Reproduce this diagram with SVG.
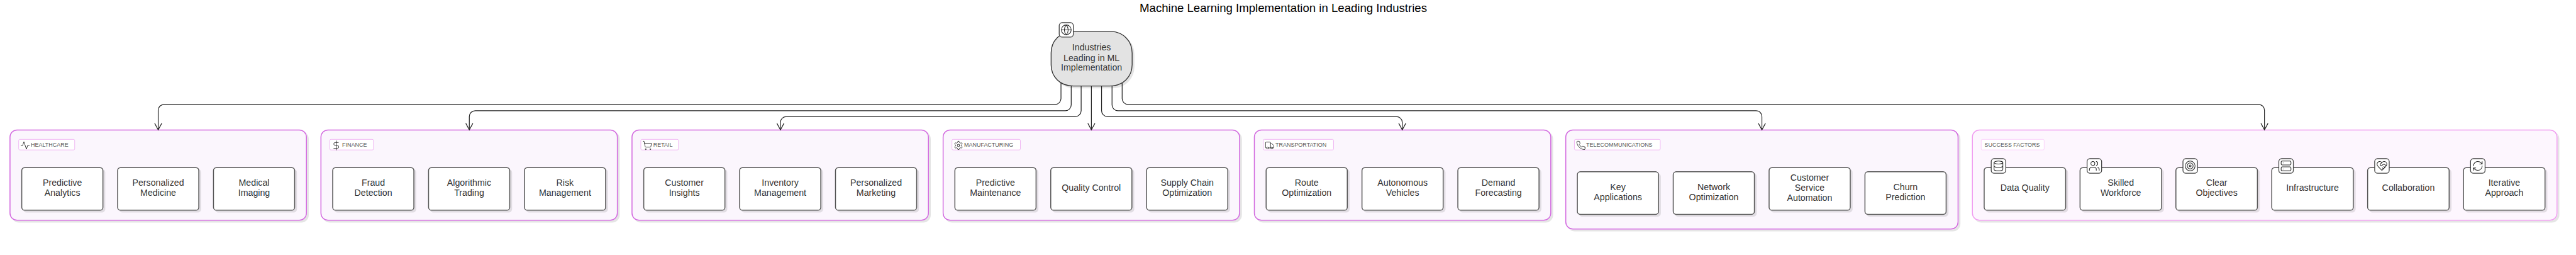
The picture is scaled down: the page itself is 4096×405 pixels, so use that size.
<svg xmlns="http://www.w3.org/2000/svg" width="4096" height="405" viewBox="0 0 4096 405">
<style>
text{font-family:"Liberation Sans",Arial,sans-serif}
.t{font-size:15.2px;fill:#333;text-anchor:middle}
.title{font-size:19.9px;fill:#000;text-anchor:middle}
.lt{font-size:9.6px;fill:#555}
.g{fill:#fbf6fd;stroke:#d268df;stroke-width:1.6}
.gs{fill:#fdf6fe;stroke:#f09bf0;stroke-width:1.6}
.lb{fill:#fff;stroke:#efb4f2;stroke-width:1}
.n{fill:#fff;stroke:#555;stroke-width:1.6}
.b{fill:#fff;stroke:#444;stroke-width:1.4}
.c{fill:none;stroke:#222;stroke-width:1.3}
.i{fill:none;stroke:#222;stroke-width:1.3;stroke-linecap:round;stroke-linejoin:round}
</style>
<defs>
<filter id="sh" x="-5%" y="-5%" width="110%" height="115%"><feDropShadow dx="3.200" dy="3.200" stdDeviation="0.4" flood-color="#000" flood-opacity="0.1"/></filter>
<marker id="ah" markerUnits="userSpaceOnUse" markerWidth="14" markerHeight="16" refX="12" refY="7" orient="auto" viewBox="0 0 14 14"><path d="M1 1L12 7L1 13" fill="none" stroke="#222" stroke-width="1.3"/></marker>
<symbol id="i-activity" viewBox="0 0 24 24"><path class="i" d="M22 12h-4l-3 9L9 3l-3 9H2"/></symbol>
<symbol id="i-dollar" viewBox="0 0 24 24"><path class="i" d="M12 1v22M17 5H9.500a3.500 3.500 0 0 0 0 7h5a3.500 3.500 0 0 1 0 7H6"/></symbol>
<symbol id="i-cart" viewBox="0 0 24 24"><circle class="i" cx="8" cy="21" r="1"/><circle class="i" cx="19" cy="21" r="1"/><path class="i" d="M2.050 2.050h2l2.660 12.420a2 2 0 0 0 2 1.580h9.780a2 2 0 0 0 1.950-1.570l1.650-7.430H5.120"/></symbol>
<symbol id="i-gear" viewBox="0 0 24 24"><path class="i" d="M12.220 2h-.44a2 2 0 0 0-2 2v.18a2 2 0 0 1-1 1.730l-.43.25a2 2 0 0 1-2 0l-.15-.08a2 2 0 0 0-2.730.73l-.22.38a2 2 0 0 0 .73 2.730l.15.1a2 2 0 0 1 1 1.720v.51a2 2 0 0 1-1 1.740l-.15.09a2 2 0 0 0-.73 2.730l.22.38a2 2 0 0 0 2.730.73l.15-.08a2 2 0 0 1 2 0l.43.25a2 2 0 0 1 1 1.730V20a2 2 0 0 0 2 2h.44a2 2 0 0 0 2-2v-.18a2 2 0 0 1 1-1.730l.43-.25a2 2 0 0 1 2 0l.15.08a2 2 0 0 0 2.730-.73l.22-.39a2 2 0 0 0-.73-2.730l-.15-.08a2 2 0 0 1-1-1.740v-.5a2 2 0 0 1 1-1.740l.15-.09a2 2 0 0 0 .73-2.730l-.22-.38a2 2 0 0 0-2.730-.73l-.15.08a2 2 0 0 1-2 0l-.43-.25a2 2 0 0 1-1-1.730V4a2 2 0 0 0-2-2z"/><circle class="i" cx="12" cy="12" r="3"/></symbol>
<symbol id="i-truck" viewBox="0 0 24 24"><path class="i" d="M14 18V6a2 2 0 0 0-2-2H4a2 2 0 0 0-2 2v11a1 1 0 0 0 1 1h2M15 18H9M19 18h2a1 1 0 0 0 1-1v-3.650a1 1 0 0 0-.22-.624l-3.480-4.350A1 1 0 0 0 17.520 8H14"/><circle class="i" cx="17" cy="18" r="2"/><circle class="i" cx="7" cy="18" r="2"/></symbol>
<symbol id="i-phone" viewBox="0 0 24 24"><path class="i" d="M22 16.920v3a2 2 0 0 1-2.180 2 19.790 19.790 0 0 1-8.630-3.070 19.500 19.500 0 0 1-6-6 19.790 19.790 0 0 1-3.070-8.670A2 2 0 0 1 4.110 2h3a2 2 0 0 1 2 1.720 12.840 12.840 0 0 0 .7 2.810 2 2 0 0 1-.45 2.110L8.090 9.910a16 16 0 0 0 6 6l1.270-1.270a2 2 0 0 1 2.110-.45 12.840 12.840 0 0 0 2.810.7A2 2 0 0 1 22 16.920z"/></symbol>
<symbol id="i-globe" viewBox="0 0 24 24"><circle class="i" cx="12" cy="12" r="10"/><path class="i" d="M2 12h20M12 2a15.300 15.300 0 0 1 4 10 15.300 15.300 0 0 1-4 10 15.300 15.300 0 0 1-4-10 15.300 15.300 0 0 1 4-10z"/></symbol>
<symbol id="i-db" viewBox="0 0 24 24"><ellipse class="i" cx="12" cy="5" rx="9" ry="3"/><path class="i" d="M3 5V19A9 3 0 0 0 21 19V5M3 12A9 3 0 0 0 21 12"/></symbol>
<symbol id="i-users" viewBox="0 0 24 24"><path class="i" d="M16 21v-2a4 4 0 0 0-4-4H6a4 4 0 0 0-4 4v2M22 21v-2a4 4 0 0 0-3-3.870M16 3.130a4 4 0 0 1 0 7.750"/><circle class="i" cx="9" cy="7" r="4"/></symbol>
<symbol id="i-target" viewBox="0 0 24 24"><circle class="i" cx="12" cy="12" r="10"/><circle class="i" cx="12" cy="12" r="6"/><circle class="i" cx="12" cy="12" r="2"/></symbol>
<symbol id="i-server" viewBox="0 0 24 24"><rect class="i" x="2" y="2" width="20" height="8" rx="2"/><rect class="i" x="2" y="14" width="20" height="8" rx="2"/><path class="i" d="M6 6h.01M6 18h.01"/></symbol>
<symbol id="i-heart" viewBox="0 0 24 24"><path class="i" d="M19 14c1.490-1.460 3-3.210 3-5.500A5.500 5.500 0 0 0 16.500 3c-1.760 0-3 .5-4.500 2-1.500-1.500-2.740-2-4.500-2A5.500 5.500 0 0 0 2 8.500c0 2.300 1.500 4.050 3 5.500l7 7ZM12 5 9.040 7.960a2.170 2.170 0 0 0 0 3.080c.82.82 2.130.85 3 .07l2.070-1.900a2.820 2.820 0 0 1 3.790 0l2.960 2.660M18 15l-2-2M15 18l-2-2"/></symbol>
<symbol id="i-refresh" viewBox="0 0 24 24"><path class="i" d="M3 12a9 9 0 0 1 9-9 9.750 9.750 0 0 1 6.740 2.740L21 8M21 3v5h-5M21 12a9 9 0 0 1-9 9 9.750 9.750 0 0 1-6.740-2.740L3 16M8 16H3v5"/></symbol>
</defs>
<g transform="scale(0.93516)">
<text class="title" x="2182" y="20.700">Machine Learning Implementation in Leading Industries</text>

<g id="group-healthcare">
<rect class="g" filter="url(#sh)" x="17" y="220.700" width="504" height="153.300" rx="12"/>
<rect class="lb" x="31.800" y="236.700" width="95.200" height="18" rx="2"/>
<use href="#i-activity" x="34.300" y="238.500" width="17" height="17"/>
<text class="lt" x="52.500" y="249.300">HEALTHCARE</text>
</g>
<g id="n-predictive-analytics"><rect class="n" filter="url(#sh)" x="37" y="284.700" width="138" height="72.300" rx="5"/><text class="t" x="106" y="315.400">Predictive<tspan x="106" y="332.600">Analytics</tspan></text></g>
<g id="n-personalized-medicine"><rect class="n" filter="url(#sh)" x="200" y="284.700" width="138" height="72.300" rx="5"/><text class="t" x="269" y="315.400">Personalized<tspan x="269" y="332.600">Medicine</tspan></text></g>
<g id="n-medical-imaging"><rect class="n" filter="url(#sh)" x="363" y="284.700" width="138" height="72.300" rx="5"/><text class="t" x="432" y="315.400">Medical<tspan x="432" y="332.600">Imaging</tspan></text></g>

<g id="group-finance">
<rect class="g" filter="url(#sh)" x="545.700" y="220.700" width="504" height="153.300" rx="12"/>
<rect class="lb" x="560.700" y="236.700" width="74.300" height="18" rx="2"/>
<use href="#i-dollar" x="563.300" y="238.500" width="17" height="17"/>
<text class="lt" x="581.800" y="249.300">FINANCE</text>
</g>
<g id="n-fraud-detection"><rect class="n" filter="url(#sh)" x="565.700" y="284.700" width="138" height="72.300" rx="5"/><text class="t" x="634.700" y="315.400">Fraud<tspan x="634.700" y="332.600">Detection</tspan></text></g>
<g id="n-algorithmic-trading"><rect class="n" filter="url(#sh)" x="728.700" y="284.700" width="138" height="72.300" rx="5"/><text class="t" x="797.700" y="315.400">Algorithmic<tspan x="797.700" y="332.600">Trading</tspan></text></g>
<g id="n-risk-management"><rect class="n" filter="url(#sh)" x="891.700" y="284.700" width="138" height="72.300" rx="5"/><text class="t" x="960.700" y="315.400">Risk<tspan x="960.700" y="332.600">Management</tspan></text></g>

<g id="group-retail">
<rect class="g" filter="url(#sh)" x="1074.600" y="220.700" width="504" height="153.300" rx="12"/>
<rect class="lb" x="1089.600" y="236.700" width="64" height="18" rx="2"/>
<use href="#i-cart" x="1092.200" y="238.500" width="17" height="17"/>
<text class="lt" x="1110.700" y="249.300">RETAIL</text>
</g>
<g id="n-customer-insights"><rect class="n" filter="url(#sh)" x="1094.600" y="284.700" width="138" height="72.300" rx="5"/><text class="t" x="1163.600" y="315.400">Customer<tspan x="1163.600" y="332.600">Insights</tspan></text></g>
<g id="n-inventory-management"><rect class="n" filter="url(#sh)" x="1257.600" y="284.700" width="138" height="72.300" rx="5"/><text class="t" x="1326.600" y="315.400">Inventory<tspan x="1326.600" y="332.600">Management</tspan></text></g>
<g id="n-personalized-marketing"><rect class="n" filter="url(#sh)" x="1420.600" y="284.700" width="138" height="72.300" rx="5"/><text class="t" x="1489.600" y="315.400">Personalized<tspan x="1489.600" y="332.600">Marketing</tspan></text></g>

<g id="group-manufacturing">
<rect class="g" filter="url(#sh)" x="1603.600" y="220.700" width="504" height="153.300" rx="12"/>
<rect class="lb" x="1618.600" y="236.700" width="116.400" height="18" rx="2"/>
<use href="#i-gear" x="1621.200" y="238.500" width="17" height="17"/>
<text class="lt" x="1639.300" y="249.300">MANUFACTURING</text>
</g>
<g id="n-predictive-maintenance"><rect class="n" filter="url(#sh)" x="1623.600" y="284.700" width="138" height="72.300" rx="5"/><text class="t" x="1692.600" y="315.400">Predictive<tspan x="1692.600" y="332.600">Maintenance</tspan></text></g>
<g id="n-quality-control"><rect class="n" filter="url(#sh)" x="1786.600" y="284.700" width="138" height="72.300" rx="5"/><text class="t" x="1855.600" y="324">Quality Control</text></g>
<g id="n-supply-chain"><rect class="n" filter="url(#sh)" x="1949.600" y="284.700" width="138" height="72.300" rx="5"/><text class="t" x="2018.600" y="315.400">Supply Chain<tspan x="2018.600" y="332.600">Optimization</tspan></text></g>

<g id="group-transportation">
<rect class="g" filter="url(#sh)" x="2132.800" y="220.700" width="504" height="153.300" rx="12"/>
<rect class="lb" x="2147.900" y="236.700" width="119.600" height="18" rx="2"/>
<use href="#i-truck" x="2150.400" y="238.500" width="17" height="17"/>
<text class="lt" x="2168.600" y="249.300">TRANSPORTATION</text>
</g>
<g id="n-route-optimization"><rect class="n" filter="url(#sh)" x="2152.800" y="284.700" width="138" height="72.300" rx="5"/><text class="t" x="2221.800" y="315.400">Route<tspan x="2221.800" y="332.600">Optimization</tspan></text></g>
<g id="n-autonomous-vehicles"><rect class="n" filter="url(#sh)" x="2315.800" y="284.700" width="138" height="72.300" rx="5"/><text class="t" x="2384.800" y="315.400">Autonomous<tspan x="2384.800" y="332.600">Vehicles</tspan></text></g>
<g id="n-demand-forecasting"><rect class="n" filter="url(#sh)" x="2478.800" y="284.700" width="138" height="72.300" rx="5"/><text class="t" x="2547.800" y="315.400">Demand<tspan x="2547.800" y="332.600">Forecasting</tspan></text></g>

<g id="group-telecommunications">
<rect class="g" filter="url(#sh)" x="2662.300" y="220.700" width="667" height="168.300" rx="12"/>
<rect class="lb" x="2677" y="236.700" width="146" height="18" rx="2"/>
<use href="#i-phone" x="2679.500" y="238.500" width="17" height="17"/>
<text class="lt" x="2697" y="249.300">TELECOMMUNICATIONS</text>
</g>
<g id="n-key-applications"><rect class="n" filter="url(#sh)" x="2682" y="291.700" width="138" height="72.300" rx="5"/><text class="t" x="2751" y="322.700">Key<tspan x="2751" y="339.900">Applications</tspan></text></g>
<g id="n-network-optimization"><rect class="n" filter="url(#sh)" x="2845" y="291.700" width="138" height="72.300" rx="5"/><text class="t" x="2914" y="322.700">Network<tspan x="2914" y="339.900">Optimization</tspan></text></g>
<g id="n-customer-service"><rect class="n" filter="url(#sh)" x="3008" y="284.700" width="138" height="72.300" rx="5"/><text class="t" x="3077" y="306.700">Customer<tspan x="3077" y="323.900">Service</tspan><tspan x="3077" y="341.100">Automation</tspan></text></g>
<g id="n-churn-prediction"><rect class="n" filter="url(#sh)" x="3171" y="291.700" width="138" height="72.300" rx="5"/><text class="t" x="3240" y="322.700">Churn<tspan x="3240" y="339.900">Prediction</tspan></text></g>

<g id="group-success">
<rect class="gs" filter="url(#sh)" x="3353.700" y="220.700" width="994" height="153.300" rx="12"/>
<rect class="lb" x="3368.700" y="236.700" width="107" height="18" rx="2" style="stroke:#fbd0fb"/>
<text class="lt" x="3374.300" y="249.300">SUCCESS FACTORS</text>
</g>
<g id="n-data-quality"><rect class="n" filter="url(#sh)" x="3373.700" y="284.700" width="138.600" height="72.300" rx="5"/><rect class="b" x="3385.700" y="269.500" width="24.700" height="24.700" rx="5"/><use href="#i-db" x="3388" y="271.800" width="20" height="20"/><text class="t" x="3443" y="324">Data Quality</text></g>
<g id="n-skilled-workforce"><rect class="n" filter="url(#sh)" x="3536.700" y="284.700" width="138.600" height="72.300" rx="5"/><rect class="b" x="3548.700" y="269.500" width="24.700" height="24.700" rx="5"/><use href="#i-users" x="3551" y="271.800" width="20" height="20"/><text class="t" x="3606" y="315.400">Skilled<tspan x="3606" y="332.600">Workforce</tspan></text></g>
<g id="n-clear-objectives"><rect class="n" filter="url(#sh)" x="3699.700" y="284.700" width="138.600" height="72.300" rx="5"/><rect class="b" x="3711.700" y="269.500" width="24.700" height="24.700" rx="5"/><use href="#i-target" x="3714" y="271.800" width="20" height="20"/><text class="t" x="3769" y="315.400">Clear<tspan x="3769" y="332.600">Objectives</tspan></text></g>
<g id="n-infrastructure"><rect class="n" filter="url(#sh)" x="3862.700" y="284.700" width="138.600" height="72.300" rx="5"/><rect class="b" x="3874.700" y="269.500" width="24.700" height="24.700" rx="5"/><use href="#i-server" x="3877" y="271.800" width="20" height="20"/><text class="t" x="3932" y="324">Infrastructure</text></g>
<g id="n-collaboration"><rect class="n" filter="url(#sh)" x="4025.700" y="284.700" width="138.600" height="72.300" rx="5"/><rect class="b" x="4037.700" y="269.500" width="24.700" height="24.700" rx="5"/><use href="#i-heart" x="4040" y="271.800" width="20" height="20"/><text class="t" x="4095" y="324">Collaboration</text></g>
<g id="n-iterative-approach"><rect class="n" filter="url(#sh)" x="4188.700" y="284.700" width="138.600" height="72.300" rx="5"/><rect class="b" x="4200.700" y="269.500" width="24.700" height="24.700" rx="5"/><use href="#i-refresh" x="4203" y="271.800" width="20" height="20"/><text class="t" x="4258" y="315.400">Iterative<tspan x="4258" y="332.600">Approach</tspan></text></g>

<g id="connectors">
<path class="c" marker-end="url(#ah)" d="M1804 138V167.300A10 10 0 0 1 1794 177.300H279A10 10 0 0 0 269 187.300V220.500"/>
<path class="c" marker-end="url(#ah)" d="M1821.400 142V178A10 10 0 0 1 1811.400 188H808A10 10 0 0 0 798 198V220.500"/>
<path class="c" marker-end="url(#ah)" d="M1838.300 146V188A10 10 0 0 1 1828.300 198H1337A10 10 0 0 0 1327 208V220.500"/>
<path class="c" marker-end="url(#ah)" d="M1855.700 146V220.500"/>
<path class="c" marker-end="url(#ah)" d="M1873 146V188A10 10 0 0 0 1883 198H2374.300A10 10 0 0 1 2384.300 208V220.500"/>
<path class="c" marker-end="url(#ah)" d="M1890.800 146V178A10 10 0 0 0 1900.800 188H2985.800A10 10 0 0 1 2995.800 198V220.500"/>
<path class="c" marker-end="url(#ah)" d="M1908 138V167.300A10 10 0 0 0 1918 177.300H3840.300A10 10 0 0 1 3850.300 187.300V220.500"/>
</g>

<g id="n-industries">
<path filter="url(#sh)" d="M1825 53.300H1887C1910 53.300 1925 70 1925 90V110C1925 130 1910 146 1887 146H1825C1802 146 1787.200 130 1787.200 110V90C1787.200 70 1802 53.300 1825 53.300Z" fill="#e3e3e3" stroke="#333" stroke-width="1.400"/>
<rect class="b" x="1801" y="38.500" width="24" height="24.500" rx="5"/>
<use href="#i-globe" x="1803" y="40.700" width="20" height="20"/>
<text class="t" x="1856" y="86">Industries<tspan x="1856" y="103.300">Leading in ML</tspan><tspan x="1856" y="120">Implementation</tspan></text>
</g>
</g>
</svg>
